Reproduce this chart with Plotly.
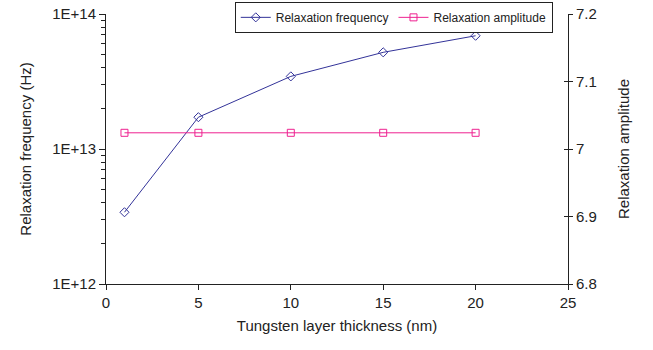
import plotly.graph_objects as go

thickness = [1, 5, 10, 15, 20]
rel_freq = [3.4e12, 1.72e13, 3.45e13, 5.2e13, 6.9e13]
rel_amp = [7.024, 7.024, 7.024, 7.024, 7.024]
x_tickvals = [0, 5, 10, 15, 20, 25]
amp_tickvals = [6.8, 6.9, 7.0, 7.1, 7.2]
amp_ticktext = ["6.8", "6.9", "7", "7.1", "7.2"]

FONT = "Liberation Sans, Arial, sans-serif"
blue = "#333399"
pink = "#ee2290"
axc = "#222222"

fig = go.Figure()
fig.add_trace(go.Scatter(
    x=thickness, y=rel_freq, name="Relaxation frequency", mode="lines+markers",
    line=dict(color=blue, width=1),
    marker=dict(symbol="diamond-open", size=7, color=blue, line=dict(width=1)),
    yaxis="y"))
fig.add_trace(go.Scatter(
    x=thickness, y=rel_amp, name="Relaxation amplitude", mode="lines+markers",
    line=dict(color=pink, width=1),
    marker=dict(symbol="square-open", size=7, color=pink, line=dict(width=1)),
    yaxis="y2"))
# invisible helper trace so the inside-tick overlay axis on the right is drawn
fig.add_trace(go.Scatter(x=thickness, y=rel_amp, yaxis="y3", mode="markers",
                         marker=dict(opacity=0), showlegend=False, hoverinfo="skip"))

fig.update_layout(
    width=653, height=350,
    margin=dict(l=106, r=85, t=14, b=66, autoexpand=False),
    paper_bgcolor="white", plot_bgcolor="white",
    font=dict(family=FONT, size=14, color=axc),
    showlegend=True,
    legend=dict(
        orientation="h", x=0.967, xanchor="right", y=1.045, yanchor="top",
        bordercolor=axc, borderwidth=1, bgcolor="white",
        font=dict(size=12, family=FONT), itemwidth=30,
        tracegroupgap=0,
    ),
    xaxis=dict(
        range=[0, 25], tickvals=x_tickvals, showgrid=False, zeroline=False,
        showline=True, linecolor=axc, linewidth=1,
        ticks="outside", ticklen=5, tickwidth=1, tickcolor=axc,
        title=dict(text="Tungsten layer thickness (nm)", font=dict(size=15), standoff=10),
        tickfont=dict(size=15),
    ),
    yaxis=dict(
        type="log", range=[12, 14], showgrid=False, zeroline=False,
        showline=True, linecolor=axc, linewidth=1,
        tickmode="linear", dtick=1, exponentformat="E", showexponent="all",
        ticks="outside", ticklen=6, tickwidth=1, tickcolor=axc,
        minor=dict(ticks="outside", ticklen=4, tickwidth=1, tickcolor=axc,
                   dtick="D1", showgrid=False),
        title=dict(text="Relaxation frequency (Hz)", font=dict(size=15), standoff=16),
        tickfont=dict(size=15),
    ),
    yaxis2=dict(
        overlaying="y", side="right", anchor="x", range=[6.8, 7.2],
        tickvals=amp_tickvals, ticktext=amp_ticktext,
        showgrid=False, zeroline=False,
        showline=True, linecolor=axc, linewidth=1,
        ticks="outside", ticklen=4, tickwidth=1, tickcolor=axc,
        title=dict(text="Relaxation amplitude", font=dict(size=15), standoff=22),
        tickfont=dict(size=15),
    ),
    yaxis3=dict(
        overlaying="y", side="right", anchor="x", range=[6.8, 7.2],
        tickvals=amp_tickvals, showticklabels=False,
        showgrid=False, zeroline=False, showline=False,
        ticks="inside", ticklen=4, tickwidth=1, tickcolor=axc,
    ),
)
fig.write_html("out.html")
